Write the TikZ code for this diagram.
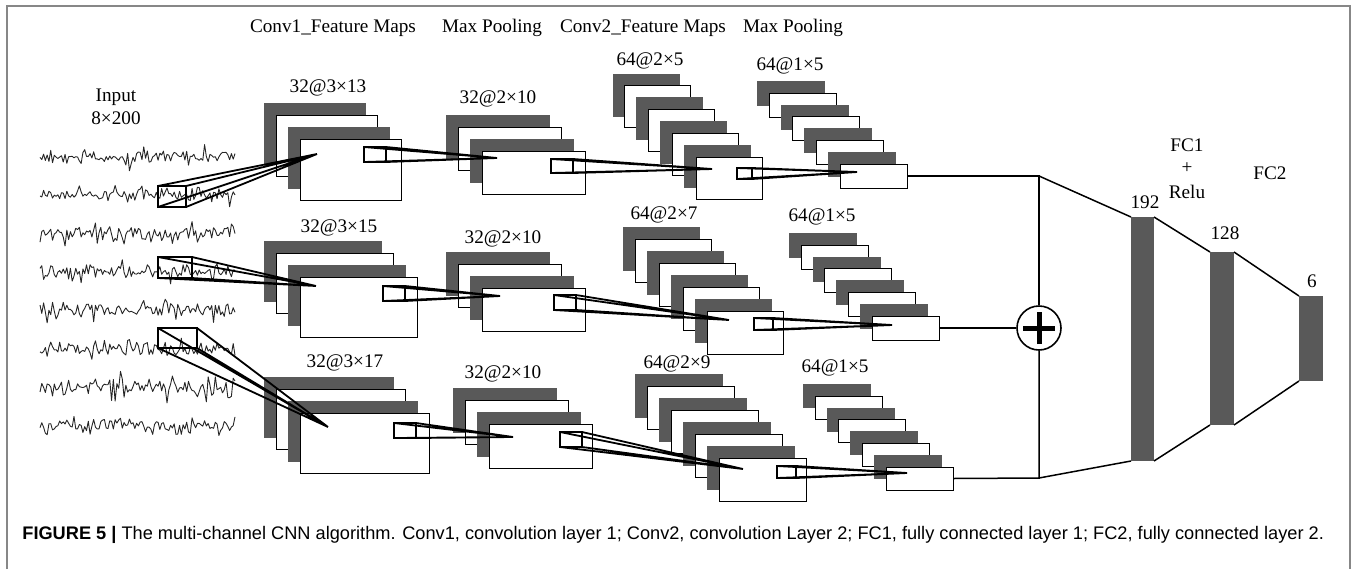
\documentclass[tikz,border=0pt]{standalone}
\usepackage{fontspec}
\setmainfont{Liberation Serif}
\newfontfamily\capfont{Liberation Sans}
\usetikzlibrary{positioning}

\definecolor{mapgray}{RGB}{89,89,89}
\definecolor{framegray}{RGB}{135,135,135}

\tikzset{
  wmap/.style={draw=black, line width=0.5pt, fill=white, inner sep=0pt, outer sep=0pt, anchor=north west},
  dmap/.style={wmap, draw=mapgray, fill=mapgray},
  kern/.style={draw=black, line width=0.9pt, inner sep=0pt, outer sep=0pt, anchor=north west},
  kline/.style={line width=0.9pt},
  fcbar/.style={fill=mapgray, inner sep=0pt, outer sep=0pt, anchor=north west},
  link/.style={line width=0.75pt},
  lbl/.style={font=\fontsize{9.6}{11}\selectfont, inner sep=0pt},
  eeg/.style={line width=0.45pt, black!85, line join=round},
}

% stack of feature maps: name, front x, front y, width, height, count, shift
\newcommand{\mapstack}[7]{%
  \foreach \k in {1,...,#6}{%
    \pgfmathsetmacro{\off}{(#6-\k)*#7}%
    \ifodd\k
      \node[dmap, minimum width=#4*0.5pt, minimum height=#5*0.5pt] (#1-\k) at ({#2-\off},{#3-\off}) {};
    \else
      \node[wmap, minimum width=#4*0.5pt, minimum height=#5*0.5pt] (#1-\k) at ({#2-\off},{#3-\off}) {};
    \fi
  }%
}

% window on a map and its four rays to the apex: name, x, y, width, height, apex
\newcommand{\recfield}[6]{%
  \node[kern, minimum width=#4*0.5pt, minimum height=#5*0.5pt] (#1) at (#2,#3) {};
  \draw[kline] (#1.north west) -- (#6) (#1.north east) -- (#6)
               (#1.south west) -- (#6) (#1.south east) -- (#6);
}

\begin{document}
\begin{tikzpicture}[x=0.5pt, y=-0.5pt]

	\useasboundingbox (0,0) rectangle (1357,569);

	% frame
	\draw[framegray, line width=0.8pt] (7,569) -- (7,6) -- (1350,6) -- (1350,569);

	% column titles
	\node[lbl] (tconv1) at (333,28) {Conv1\_Feature Maps};
	\node[lbl] (tpool1) at (492,28) {Max Pooling};
	\node[lbl] (tconv2) at (643,28) {Conv2\_Feature Maps};
	\node[lbl] (tpool2) at (793,28) {Max Pooling};

	% input signals
	\node[lbl] (tin) at (116,97) {Input};
	\node[lbl] (tsize) at (116,118) {8×200};
	\pgfmathsetseed{4711}
	\foreach \row/\amp in {157/10, 195/9, 233/10, 271/10, 310/11, 348/10, 387/12, 425/10} {
		\draw[eeg] plot[domain=40:235, samples=110]
			(\x, {\row + \amp*(0.5*rand + 1.6*rand*rand*rand + 0.15*sin(\x*41))});
	}

	% Conv1
	\mapstack{c1a}{300}{139}{101}{61}{4}{11.8}
	\mapstack{c1b}{300}{277}{117}{60}{4}{12}
	\mapstack{c1c}{300}{413}{129}{60}{4}{12}
	\node[lbl] (l1a) at (328,88) {32@3×13};
	\node[lbl] (l1b) at (339,228) {32@3×15};
	\node[lbl] (l1c) at (345,363) {32@3×17};

	% Max pooling 1
	\mapstack{p1a}{482}{151}{103}{43}{4}{11.7}
	\mapstack{p1b}{482}{288}{103}{43}{4}{11.7}
	\mapstack{p1c}{489}{424}{103}{44}{4}{11.7}
	\node[lbl] (l2a) at (498,99) {32@2×10};
	\node[lbl] (l2b) at (503,239) {32@2×10};
	\node[lbl] (l2c) at (503,374) {32@2×10};

	% Conv2
	\mapstack{c2a}{696}{157}{66}{42}{8}{11.85}
	\mapstack{c2b}{707}{311}{76}{43}{8}{11.9}
	\mapstack{c2c}{719}{458}{87}{43}{8}{11.9}
	\node[lbl] (l3a) at (650,61) {64@2×5};
	\node[lbl] (l3b) at (664,215) {64@2×7};
	\node[lbl] (l3c) at (677,364) {64@2×9};

	% Max pooling 2
	\mapstack{p2a}{840}{164}{67}{24}{8}{11.8}
	\mapstack{p2b}{872}{316}{67}{24}{8}{11.8}
	\mapstack{p2c}{886}{467}{67}{23}{8}{11.8}
	\node[lbl] (l4a) at (790,66) {64@1×5};
	\node[lbl] (l4b) at (822,217) {64@1×5};
	\node[lbl] (l4c) at (835,368) {64@1×5};

	% apex points of the receptive fields
	\coordinate (a0a) at (317,154);
	\coordinate (a0b) at (316,286);
	\coordinate (a0c) at (328,427);
	\coordinate (a1a) at (497,158);
	\coordinate (a1b) at (500,296);
	\coordinate (a1c) at (513,437);
	\coordinate (a2a) at (712,169);
	\coordinate (a2b) at (729,320);
	\coordinate (a2c) at (743,469);
	\coordinate (a3a) at (857,172);
	\coordinate (a3b) at (892,325);
	\coordinate (a3c) at (907,473);

	% receptive fields
	\recfield{k0a}{158}{186}{28}{21}{a0a}
	\recfield{k0b}{158}{257}{34}{21}{a0b}
	\recfield{k0c}{158}{328}{39}{20}{a0c}
	\recfield{k1a}{364}{147}{22}{15}{a1a}
	\recfield{k1b}{383}{286}{22}{15}{a1b}
	\recfield{k1c}{394}{423}{22}{15}{a1c}
	\recfield{k2a}{551}{159}{22}{14}{a2a}
	\recfield{k2b}{554}{295}{22}{15}{a2b}
	\recfield{k2c}{560}{432}{22}{15}{a2c}
	\recfield{k3a}{737}{168}{15}{11}{a3a}
	\recfield{k3b}{754}{318}{19}{12}{a3b}
	\recfield{k3c}{777}{466}{19}{12}{a3c}

	% concatenation
	\node[circle, draw, fill=white, line width=0.8pt, minimum size=44*0.5pt, inner sep=0pt] (sum) at (1039,328) {};
	\draw[line width=2.5pt] ([xshift=-8pt]sum.center) -- ([xshift=8pt]sum.center);
	\draw[line width=2.5pt] ([yshift=-8pt]sum.center) -- ([yshift=8pt]sum.center);
	\coordinate (bt) at (1039,176);
	\coordinate (bb) at (1039,478);
	\draw[link] (p2a-8.east) -- (bt) -- (sum.north);
	\draw[link] (p2b-8.east) -- (sum.west);
	\draw[link] (p2c-8.east) -- (bb) -- (sum.south);

	% fully connected layers
	\node[fcbar, minimum width=23*0.5pt, minimum height=244*0.5pt] (fc1) at (1131,217) {};
	\node[fcbar, minimum width=24*0.5pt, minimum height=173*0.5pt] (fc2) at (1210,252) {};
	\node[fcbar, minimum width=24*0.5pt, minimum height=85*0.5pt] (fc3) at (1299,296) {};
	\draw[link] (bt) -- (fc1.north west);
	\draw[link] (bb) -- (fc1.south west);
	\draw[link] (fc1.north east) -- (fc2.north west);
	\draw[link] (fc1.south east) -- (fc2.south west);
	\draw[link] (fc2.north east) -- (fc3.north west);
	\draw[link] (fc2.south east) -- (fc3.south west);
	\node[lbl] (n192) at (1145,202) {192};
	\node[lbl] (n128) at (1225,233) {128};
	\node[lbl] (n6) at (1312,281) {6};
	\node[lbl] (tfc1) at (1187,145) {FC1};
	\node[lbl] (tplus) at (1187,168) {+};
	\node[lbl] (trelu) at (1187,192) {Relu};
	\node[lbl] (tfc2) at (1270,173) {FC2};

	% caption
	\node[anchor=west, inner sep=0pt, font=\capfont\fontsize{9.1}{11}\selectfont] (cap) at (22,535)
		{\textbf{FIGURE 5 |} The multi-channel CNN algorithm. Conv1, convolution layer 1; Conv2, convolution Layer 2; FC1, fully connected layer 1; FC2, fully connected layer 2.};

\end{tikzpicture}
\end{document}
